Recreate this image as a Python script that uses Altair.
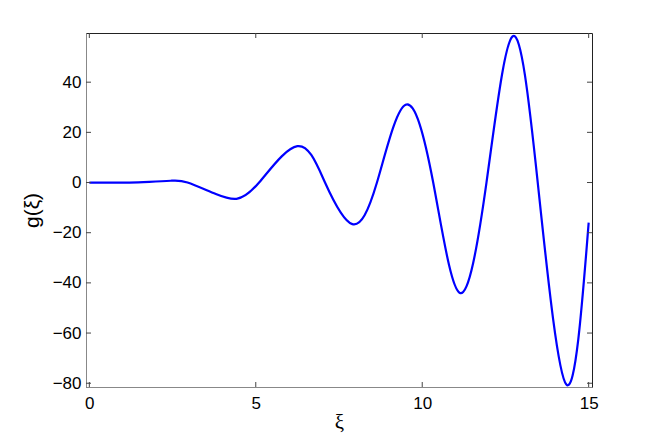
import altair as alt
import pandas as pd

# curve: extrema and zero crossings (plus a few shape points)
xi = [0.0, 0.6, 1.2, 1.8, 2.45, 2.95, 3.8, 4.42, 5.1, 6.25, 7.08, 7.9, 8.64,
      9.5, 10.33, 11.13, 11.93, 12.72, 13.47, 14.33, 15.0]
g = [0.0, 0.0, 0.0, 0.25, 0.7, 0.0, -4.6, -6.5, 0.0, 14.5, 0.0, -16.6, 0.0,
     31.0, 0.0, -44.0, 0.0, 58.3, 0.0, -80.5, -16.0]

x_ticks = [0, 5, 10, 15]
y_ticks = [-80, -60, -40, -20, 0, 20, 40]

W, H = 506, 354
XDOM = [-0.1, 15.1]
YDOM = [-81.5, 59.6]
FONT = "Liberation Sans"

df = pd.DataFrame({"xi": xi, "g": g})
xt = pd.DataFrame({"t": x_ticks})
yt = pd.DataFrame({"t": y_ticks})

xscale = alt.Scale(domain=XDOM, nice=False, zero=False)
yscale = alt.Scale(domain=YDOM, nice=False, zero=False)

line = alt.Chart(df).mark_line(color="#0000ff", strokeWidth=2.2, interpolate="natural").encode(
    x=alt.X("xi:Q", scale=xscale,
            axis=alt.Axis(title="ξ", values=x_ticks, format="d", ticks=False,
                          labelFontSize=17, labelFont=FONT, labelColor="#000",
                          labelPadding=8, titleFont="Liberation Serif", titleFontSize=21,
                          titleFontWeight="normal", titleColor="#000", titlePadding=0,
                          domainColor="#888", grid=False)),
    y=alt.Y("g:Q", scale=yscale,
            axis=alt.Axis(title="g(ξ)", values=y_ticks, format="d", ticks=False,
                          labelFontSize=17, labelFont=FONT, labelColor="#000",
                          labelPadding=5, titleFont=FONT, titleFontSize=21,
                          titleFontWeight="normal", titleColor="#000", titlePadding=10,
                          domainColor="#888", grid=False)),
)

tick_len = 5
bx = alt.Chart(xt).mark_rule(color="#444", strokeWidth=1).encode(
    x=alt.X("t:Q", scale=xscale), y=alt.value(H), y2=alt.value(H - tick_len))
tx = alt.Chart(xt).mark_rule(color="#444", strokeWidth=1).encode(
    x=alt.X("t:Q", scale=xscale), y=alt.value(0), y2=alt.value(tick_len))
ly = alt.Chart(yt).mark_rule(color="#444", strokeWidth=1).encode(
    y=alt.Y("t:Q", scale=yscale), x=alt.value(0), x2=alt.value(tick_len))
ry = alt.Chart(yt).mark_rule(color="#444", strokeWidth=1).encode(
    y=alt.Y("t:Q", scale=yscale), x=alt.value(W), x2=alt.value(W - tick_len))

chart = alt.layer(line, bx, tx, ly, ry).properties(
    width=W, height=H,
    padding={"left": 78, "top": 25, "right": 40, "bottom": 60},
    autosize=alt.AutoSizeParams(type="none"),
).configure_view(stroke="#222", strokeWidth=1)

chart.save("out.html", embed_options={"renderer": "svg", "actions": False})
